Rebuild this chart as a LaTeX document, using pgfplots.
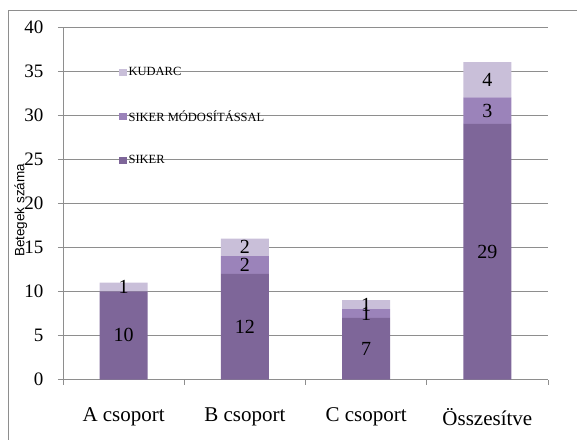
\documentclass[border=0pt]{standalone}
\usepackage{pgfplots}
\pgfplotsset{compat=1.18}
\usepackage{fontspec}
\setmainfont{Liberation Serif}
\newfontfamily\arialfont{Liberation Sans}
\definecolor{siker}{HTML}{7E6699}
\definecolor{modos}{HTML}{9B83BA}
\definecolor{kudarc}{HTML}{C9BFD9}
\definecolor{gridgray}{HTML}{8E8E8E}
\pgfplotsset{sq/.style={legend image code/.code={\fill[##1,draw=none] (0pt,-3.8pt) rectangle (8pt,3.8pt);}}}
\begin{document}
\begin{tikzpicture}[x=1pt,y=1pt]
\useasboundingbox (0,0) rectangle (577,439);
\draw[gridgray, line width=0.8pt] (8,-2) -- (8,429) -- (580,429);
\begin{axis}[
  at={(63pt,59.5pt)}, anchor=south west, scale only axis,
  width=485pt, height=352.5pt,
  ybar stacked, bar width=48pt,
  xmin=-0.5, xmax=3.5, ymin=0, ymax=40,
  ytick={0,5,...,40},
  xtick={0,1,2,3},
  xticklabels={A csoport, B csoport, C csoport, Összesítve},
  minor xtick={-0.5,0.5,1.5,2.5,3.5},
  ymajorgrids,
  grid style={draw=gridgray, line width=0.8pt},
  axis x line*=bottom, axis y line*=left,
  axis line style={draw=gridgray, line width=0.8pt},
  tick align=outside, major tick length=5pt, minor tick length=5pt,
  major x tick style={draw=none},
  minor x tick style={draw=gridgray, line width=0.8pt},
  ytick style={draw=gridgray, line width=0.8pt},
  /pgf/number format/assume math mode=true,
  yticklabel style={font=\fontsize{19}{20}\selectfont, xshift=-11pt},
  xticklabel style={font=\fontsize{21}{22}\selectfont, yshift=-20pt},
  ylabel={Betegek száma},
  ylabel style={at={(axis description cs:-0.087,0.48)}, anchor=center, rotate=0, font=\arialfont\fontsize{13.5}{14}\selectfont},
  legend style={at={(axis description cs:0.108,0.897)}, anchor=north west, draw=none, fill=none,
    row sep=29pt, font=\fontsize{12.5}{13}\selectfont, legend cell align=left,
    /tikz/every even column/.append style={column sep=0pt}},
  reverse legend,
]
\addplot+[fill=siker, draw=none, sq] coordinates {(0,10) (1,12) (2,7) (3,29)};
\addlegendentry{SIKER}
\addplot+[fill=modos, draw=none, sq] coordinates {(0,0) (1,2) (2,1) (3,3)};
\addlegendentry{SIKER MÓDOSÍTÁSSAL}
\addplot+[fill=kudarc, draw=none, sq] coordinates {(0,1) (1,2) (2,1) (3,4)};
\addlegendentry{KUDARC}
\end{axis}
\begin{axis}[
  at={(63pt,59.5pt)}, anchor=south west, scale only axis,
  width=485pt, height=352.5pt,
  xmin=-0.5, xmax=3.5, ymin=0, ymax=40, hide axis,
]
\addplot[draw=none, mark=none, nodes near coords, point meta=explicit symbolic,
  nodes near coords style={anchor=center, font=\fontsize{20}{20}\selectfont, inner sep=0pt}]
  coordinates {(0,5)[10] (0,10.5)[1] (1,6)[12] (1,13)[2] (1,15)[2]
               (2,3.5)[7] (2,7.5)[1] (2,8.5)[1] (3,14.5)[29] (3,30.5)[3] (3,34)[4]};
\end{axis}
\end{tikzpicture}
\end{document}
